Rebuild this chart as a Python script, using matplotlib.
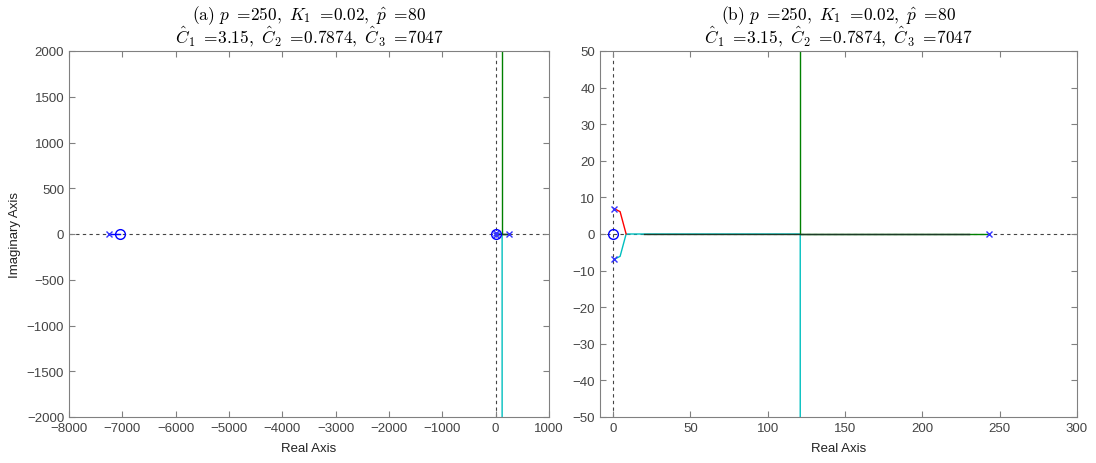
import numpy as np
import matplotlib
matplotlib.use('Agg')
import matplotlib.pyplot as plt

plt.rcParams['font.family'] = ['Liberation Sans', 'DejaVu Sans']
plt.rcParams['mathtext.fontset'] = 'cm'

# open-loop poles / zeros
pole_re = [0.8, 0.8, 243, -7250]
pole_im = [6.9, -6.9, 0, 0]
zero_re = [0, -7047]
zero_im = [0, 0]

# root locus branches
red_re = [0.8, 4.5, 8.4]
red_im = [6.9, 6.1, 0]
cyan_re = [0.8, 4.5, 8.4, 121, 121]
cyan_im = [-6.9, -6.1, 0, 0, -2000]
green_re = [243, 121, 121]
green_im = [0, 0, 2000]
blue_re = [-7250, -7047]
blue_im = [0, 0]
# real-axis segment where several branches overlap
overlap_re = [20, 230]
overlap_im = [0, 0]

titles = [r"$\mathrm{(a)}\ p\ {=}\!250,\ K_1\ {=}\!0.02,\ \hat{p}\ {=}\!80$" + "\n" +
          r"$\hat{C}_1\ {=}\!3.15,\ \hat{C}_2\ {=}\!0.7874,\ \hat{C}_3\ {=}\!7047$",
          r"$\mathrm{(b)}\ p\ {=}\!250,\ K_1\ {=}\!0.02,\ \hat{p}\ {=}\!80$" + "\n" +
          r"$\hat{C}_1\ {=}\!3.15,\ \hat{C}_2\ {=}\!0.7874,\ \hat{C}_3\ {=}\!7047$"]

fig = plt.figure(figsize=(10.96, 4.64), dpi=100)
ax1 = fig.add_axes([69/1096, 46/464, 480/1096, 366/464])
ax2 = fig.add_axes([600/1096, 46/464, 477/1096, 366/464])

blue = (0, 0, 1)
green = (0, 0.5, 0)
cyan = (0, 0.75, 0.75)

for ax in (ax1, ax2):
    ax.axhline(0, color='#444444', ls=(0, (3, 3)), lw=0.8, zorder=1)
    ax.axvline(0, color='#444444', ls=(0, (3, 3)), lw=0.8, zorder=1)
    ax.plot(blue_re, blue_im, color=blue, lw=1)
    ax.plot(cyan_re, cyan_im, color=cyan, lw=1)
    ax.plot(green_re, green_im, color=green, lw=1)
    ax.plot(overlap_re, overlap_im, color='#1e3b28', lw=1)
    ax.plot(red_re, red_im, color='red', lw=1)
    ax.plot(pole_re, pole_im, 'x', color=(0.2, 0.2, 1), ms=5, mew=1)
    ax.plot(zero_re, zero_im, 'o', mfc='none', mec=blue, ms=7, mew=1)
    ax.tick_params(direction='in', top=True, right=True, labelsize=9.5,
                   colors='#808080', labelcolor='#444444', length=4)
    for s in ax.spines.values():
        s.set_color('#808080')
    ax.set_xlabel('Real Axis', fontsize=9.5, color='#222222', labelpad=6)

ax1.set_xlim(-8000, 1000)
ax1.set_ylim(-2000, 2000)
ax1.set_xticks(np.arange(-8000, 1001, 1000))
ax1.set_yticks(np.arange(-2000, 2001, 500))
ax1.set_ylabel('Imaginary Axis', fontsize=9.5, color='#222222', labelpad=4)
ax1.set_title(titles[0], fontsize=12.5, pad=6, linespacing=0.85)

ax2.set_xlim(-8.5, 300)
ax2.set_ylim(-50, 50)
ax2.set_xticks(np.arange(0, 301, 50))
ax2.set_yticks(np.arange(-50, 51, 10))
ax2.set_title(titles[1], fontsize=12.5, pad=6, linespacing=0.85)

fig.savefig('out.png', dpi=100)
